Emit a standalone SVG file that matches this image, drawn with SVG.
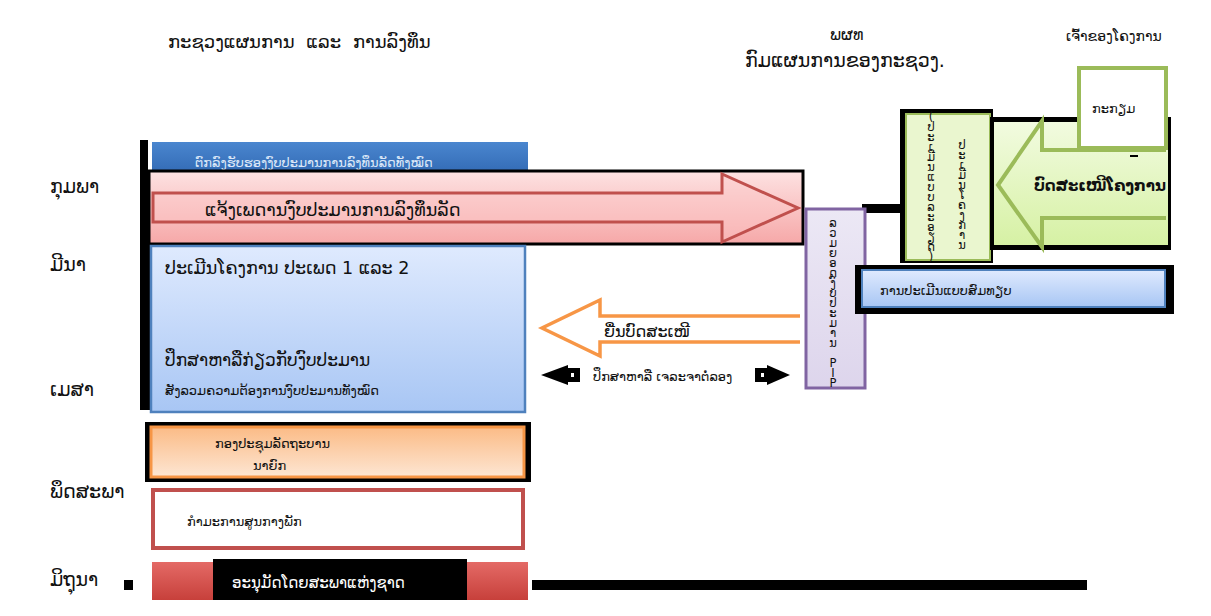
<svg xmlns="http://www.w3.org/2000/svg" width="1211" height="616" viewBox="0 0 1211 616">
<defs>
<linearGradient id="gBlueBar" x1="0" y1="0" x2="0" y2="1"><stop offset="0" stop-color="#4a86cf"/><stop offset="1" stop-color="#336bb5"/></linearGradient>
<linearGradient id="gPink" x1="0" y1="0" x2="0" y2="1"><stop offset="0" stop-color="#fde2e2"/><stop offset="1" stop-color="#f6a8a8"/></linearGradient>
<linearGradient id="gBlue" x1="0" y1="0" x2="0" y2="1"><stop offset="0" stop-color="#dfeafe"/><stop offset="1" stop-color="#a8c6f4"/></linearGradient>
<linearGradient id="gOrange" x1="0" y1="0" x2="0" y2="1"><stop offset="0" stop-color="#fbbb86"/><stop offset="1" stop-color="#fde6d3"/></linearGradient>
<linearGradient id="gPurple" x1="0" y1="0" x2="0" y2="1"><stop offset="0" stop-color="#ece8f5"/><stop offset="1" stop-color="#ddd5ec"/></linearGradient>
<linearGradient id="gGreen" x1="0" y1="0" x2="0" y2="1"><stop offset="0" stop-color="#f2fbe0"/><stop offset="1" stop-color="#d6f1a4"/></linearGradient>
<linearGradient id="gRed" x1="0" y1="0" x2="0" y2="1"><stop offset="0" stop-color="#e46a66"/><stop offset="1" stop-color="#c7403b"/></linearGradient>
</defs>
<style>
text{font-family:"DejaVu Sans","Noto Sans",sans-serif;fill:#111}
.lab{font-size:19px}
.s14{font-size:13px}
.vt{writing-mode:vertical-rl;text-orientation:upright;font-size:11.5px;letter-spacing:-4px}
</style>
<rect width="1211" height="616" fill="#fff"/>

<g id="labels">
<text class="lab" x="50" y="193">ກຸມພາ</text>
<text class="lab" x="50" y="271">ມີນາ</text>
<text class="lab" x="50" y="396">ເມສາ</text>
<text class="lab" x="50" y="498">ພຶດສະພາ</text>
<text class="lab" x="50" y="586">ມິຖຸນາ</text>
<text x="168" y="48" style="font-size:18px;word-spacing:6px">ກະຊວງແຜນການ ແລະ ການລົງທຶນ</text>
<text x="830" y="40" style="font-size:16px">ພຜທ</text>
<text x="745" y="67" style="font-size:19px">ກົມແຜນການຂອງກະຊວງ.</text>
<text x="1066" y="41" style="font-size:14px">ເຈົ້າຂອງໂຄງການ</text>
</g>

<g id="approve">
<rect x="140" y="140" width="8" height="105" fill="#000"/>
<rect x="152" y="142" width="376" height="31" fill="url(#gBlueBar)"/>
<text x="195" y="167" style="font-size:13px;fill:#dce8f8">ຕົກລົງຮັບຮອງງົບປະມານການລົງທຶນລັດທັງໝົດ</text>
</g>

<g id="notify">
<rect x="149" y="171" width="654" height="73" fill="url(#gPink)" stroke="#000" stroke-width="3"/>
<path d="M153,193 H722 V174 L798,208 L722,242 V222 H153 Z" fill="#fcc6c6" stroke="#c0504d" stroke-width="3" fill-opacity="0.4"/>
<text x="205" y="216" style="font-size:17.5px">ແຈ້ງເພດານງົບປະມານການລົງທຶນລັດ</text>
</g>

<g id="evaluate">
<rect x="140" y="245" width="12" height="165" fill="#000"/>
<rect x="151" y="246" width="374" height="166" fill="url(#gBlue)" stroke="#4f81bd" stroke-width="2.5"/>
<text x="165" y="274" style="font-size:17.5px">ປະເມີນໂຄງການ ປະເພດ 1 ແລະ 2</text>
<text x="165" y="366" style="font-size:17px">ປຶກສາຫາລືກ່ຽວກັບງົບປະມານ</text>
<text x="165" y="395" class="s14">ສັງລວມຄວາມຕ້ອງການງົບປະມານທັງໝົດ</text>
</g>

<g id="submit">
<path d="M800,316 H600 V300 L542,328 L600,356 V342 H800" fill="#fff" stroke="#f79646" stroke-width="3.5"/>
<text x="604" y="337" style="font-size:16px">ຍື່ນບົດສະເໜີ</text>
</g>

<g id="negotiate">
<path d="M541,375 L568,365 V385 Z" fill="#000"/>
<rect x="567" y="368" width="13" height="14" fill="#000"/>
<rect x="571" y="373" width="3" height="4" fill="#fff"/>
<path d="M790,375 L767,365 V385 Z" fill="#000"/>
<rect x="755" y="368" width="13" height="14" fill="#000"/>
<rect x="761" y="373" width="3" height="4" fill="#fff"/>
<text x="593" y="381" class="s14">ປຶກສາຫາລື ເຈລະຈາຕໍ່ລອງ</text>
</g>

<g id="connectors">
<rect x="862" y="204" width="44" height="9" fill="#000"/>
<rect x="124" y="580" width="9" height="10" fill="#000"/>
<rect x="532" y="580" width="555" height="10" fill="#000"/>
</g>

<g id="pip">
<rect x="806" y="209" width="59" height="179" fill="url(#gPurple)" stroke="#8064a2" stroke-width="3"/>
<text class="vt" x="833" y="216">ລວມຍອດງົບປະມານ PIP</text>
</g>

<g id="projeval">
<rect x="900" y="109" width="93" height="154" fill="#000"/>
<rect x="906" y="114" width="84" height="146" fill="#eaf6cf" stroke="#9bbb59" stroke-width="2"/>
<text class="vt" x="931" y="110">(ປະເມີນແບບລະອຽດ)</text>
<text class="vt" x="962" y="138">ປະເມີນໂຄງການ</text>
</g>

<g id="proposal">
<rect x="990" y="117" width="181" height="133" fill="#000"/>
<rect x="994" y="122" width="174" height="123" fill="url(#gGreen)"/>
<path d="M1166,150 H1042 V121 L998,185 L1042,247 V218 H1166" fill="none" stroke="#9bbb59" stroke-width="4"/>
<text x="1034" y="191" style="font-size:15px;font-weight:bold">ບົດສະເໜີໂຄງການ</text>
<rect x="1130" y="155" width="8" height="2" fill="#000"/>
</g>

<g id="prepare">
<rect x="1079" y="68" width="87" height="80" fill="#fff" stroke="#9bbb59" stroke-width="4"/>
<text x="1092" y="113" class="s14">ກະກຽມ</text>
</g>

<g id="compare">
<rect x="855" y="265" width="319" height="49" fill="#000"/>
<rect x="862" y="270" width="303" height="37" fill="url(#gBlue)" stroke="#4f81bd" stroke-width="2"/>
<text x="880" y="295" class="s14">ການປະເມີນແບບສົມທຽບ</text>
</g>

<g id="cabinet">
<rect x="145" y="422" width="386" height="60" fill="#000"/>
<rect x="151" y="427" width="373" height="50" fill="url(#gOrange)" stroke="#f79646" stroke-width="3"/>
<text x="215" y="448" class="s14">ກອງປະຊຸມລັດຖະບານ</text>
<text x="253" y="470" class="s14">ນາຍົກ</text>
</g>

<g id="party">
<rect x="153" y="490" width="370" height="58" fill="#fff" stroke="#c0504d" stroke-width="4"/>
<text x="187" y="526" class="s14">ກຳມະການສູນກາງພັກ</text>
</g>

<g id="assembly">
<rect x="152" y="562" width="376" height="38" fill="url(#gRed)"/>
<rect x="213" y="559" width="254" height="41" fill="#000"/>
<text x="232" y="588" style="font-size:15px;fill:#fff">ອະນຸມັດໂດຍສະພາແຫ່ງຊາດ</text>
</g>
</svg>
